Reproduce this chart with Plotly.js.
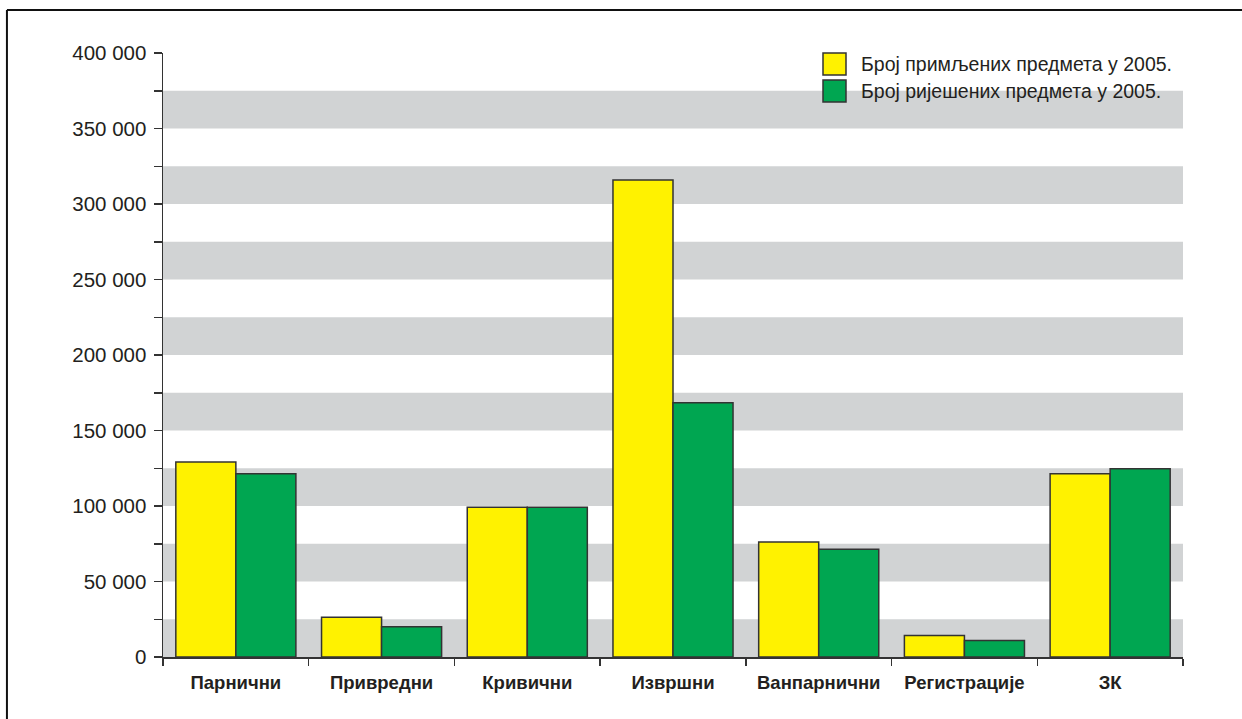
<!DOCTYPE html>
<html>
<head>
<meta charset="utf-8">
<script src="https://cdn.plot.ly/plotly-3.0.1.min.js"></script>
<style>
html,body{margin:0;padding:0;background:#fff;}
#chart{width:1242px;height:719px;}
</style>
</head>
<body>
<div id="chart"></div>
<script>
const categories = ['Парнични','Привредни','Кривични','Извршни','Ванпарнични','Регистрације','ЗК'];
const seriesNames = ['Број примљених предмета у 2005.','Број ријешених предмета у 2005.'];
const received = [129100, 26300, 99200, 315900, 76200, 14200, 121400];
const resolved = [121400, 20100, 99200, 168400, 71300, 11000, 124600];
const yTickValues = [0, 50000, 100000, 150000, 200000, 250000, 300000, 350000, 400000];

const FONT = '"Liberation Sans", Arial, sans-serif';
const TXT = '#231f20';
const colors = ['#fff200', '#00a651'];
const lineCol = '#333333';

const traces = [received, resolved].map((vals, i) => ({
  type: 'bar',
  name: seriesNames[i],
  x: categories,
  y: vals,
  marker: {color: colors[i], line: {color: lineCol, width: 1.5}},
  showlegend: false,
  hoverinfo: 'x+y'
}));

const shapes = [];
// gray bands: lower half of every 50 000 step
for (let i = 0; i < yTickValues.length - 1; i++) {
  shapes.push({type: 'rect', xref: 'paper', yref: 'y', x0: 0, x1: 1,
    y0: yTickValues[i], y1: yTickValues[i] + (yTickValues[i+1] - yTickValues[i]) / 2,
    fillcolor: '#d1d3d4', line: {width: 0}, layer: 'below'});
}
// outer frame (top & left visible)
shapes.push({type: 'line', xref: 'paper', yref: 'paper', x0: -0.1530, x1: 1.2, y0: 1.0712, y1: 1.0712, line: {color: '#111', width: 2}});
shapes.push({type: 'line', xref: 'paper', yref: 'paper', x0: -0.1530, x1: -0.1530, y0: 1.0712, y1: -0.3, line: {color: '#111', width: 2}});

// custom legend
const annotations = [];
const legX0 = (823 - 163) / 1020, legX1 = (846 - 163) / 1020;
const legRows = [[53, 75], [80, 102]];
seriesNames.forEach((name, i) => {
  const [t, b] = legRows[i];
  shapes.push({type: 'rect', xref: 'paper', yref: 'paper',
    x0: legX0, x1: legX1, y0: (657 - b) / 604, y1: (657 - t) / 604,
    fillcolor: colors[i], line: {color: lineCol, width: 1.5}});
  annotations.push({xref: 'paper', yref: 'paper', x: (859 - 163) / 1020, y: (657 - (t + b) / 2) / 604,
    xanchor: 'left', yanchor: 'middle', text: name, showarrow: false,
    font: {family: FONT, size: 19.5, color: TXT}});
});

const layout = {
  width: 1242, height: 719,
  margin: {l: 163, r: 59, t: 53, b: 62, pad: 0},
  paper_bgcolor: '#ffffff', plot_bgcolor: 'rgba(0,0,0,0)',
  separators: ', ',
  barmode: 'group', bargap: 0.176, bargroupgap: 0,
  font: {family: FONT, color: TXT, size: 20},
  xaxis: {
    type: 'category', showgrid: false, zeroline: false,
    showline: true, linecolor: lineCol, linewidth: 1.5,
    ticks: 'outside', tickson: 'boundaries', ticklen: 7, tickcolor: lineCol, tickwidth: 1.5,
    tickangle: 0,
    tickfont: {family: FONT, size: 18.5, color: TXT, weight: 'bold'},
    ticklabelstandoff: 8,
    fixedrange: true
  },
  yaxis: {
    range: [0, 400000], showgrid: false, zeroline: false,
    showline: true, linecolor: lineCol, linewidth: 1.5,
    tickmode: 'array', tickvals: yTickValues, tickformat: ',d',
    ticks: 'outside', ticklen: 8, tickcolor: lineCol, tickwidth: 1.5,
    minor: {dtick: 25000, ticks: 'outside', ticklen: 8, tickcolor: lineCol, tickwidth: 1.5, showgrid: false},
    tickfont: {family: FONT, size: 20.5, color: TXT},
    ticklabelstandoff: 3,
    fixedrange: true
  },
  shapes: shapes,
  annotations: annotations
};

Plotly.newPlot('chart', traces, layout, {displayModeBar: false, staticPlot: true});
</script>
</body>
</html>
